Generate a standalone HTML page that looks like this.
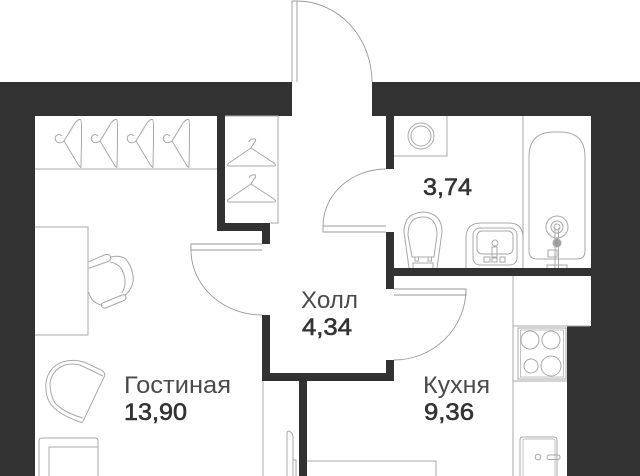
<!DOCTYPE html>
<html><head><meta charset="utf-8"><style>
html,body{margin:0;padding:0;background:#fff;width:640px;height:476px;overflow:hidden}
svg{display:block}
.l{fill:none;stroke:#a8a8a8;stroke-width:1}
.d{fill:none;stroke:#999;stroke-width:.9}
text{font-family:"Liberation Sans",sans-serif;font-size:24px;fill:#4a4a4a}
.n{fill:#333;stroke:#333;stroke-width:.6}
</style></head><body>
<svg width="640" height="476" viewBox="0 0 640 476" xmlns="http://www.w3.org/2000/svg">
<g fill="#323232">
<path d="M0 82H292V116H35V476H0Z"/>
<path d="M217 116H225V223H270V244H262V231H217Z"/>
<path d="M372 82H640V476H567V326H591V116H372Z"/>
<rect x="386" y="116" width="8" height="53"/>
<rect x="386" y="232" width="8" height="57"/>
<rect x="386" y="268" width="205" height="8"/>
<rect x="386" y="360" width="8" height="21"/>
<rect x="262" y="373" width="132" height="8"/>
<rect x="262" y="315" width="8" height="66"/>
<rect x="299" y="381" width="8" height="95"/>
</g>
<g class="d">
<path d="M292 82V1H297V82"/><path d="M297 1A75 81 0 0 1 372 82"/>
<path d="M386 226H323V232H386"/><path d="M323 226A63 57 0 0 1 386 169"/>
<path d="M262 244H191V250H262"/><path d="M191 250A71 65 0 0 0 262 315"/>
<path d="M394 289H466V295H394"/><path d="M466 289A72 71 0 0 1 394 360"/>
</g>
<g class="l">
<path d="M35 169H217"/>
<path d="M225 116H278V223H270"/>
<path d="M35 227H88V335H35"/>
<path d="M88.7 261.7L105 254.7Q109 253.5 110.7 257Q111.5 260 108 261.5L88.7 268.3"/>
<path d="M110 257Q119 255 125 258.3Q133 267 133.3 280Q132 290 125 295"/>
<path d="M110 262Q116 263 120 267Q125 273 125 282Q125 289 121.7 293"/>
<path d="M102.7 303L122 295Q125 294 126 297Q126.5 299 124 300.5L105.5 308Q102.5 308.5 101.5 306Q101 304 102.7 303Z"/>
<path d="M88.7 292Q91 303 102.7 305.5"/>
<path d="M105 375Q104 371 101 370L84 362Q73 359 63 361.7Q48 367 46 383Q45 395 50 403Q57 414 80 422Q82 423 82.7 422Z"/>
<path d="M103 376L80 365Q72 363 65 365Q52 370 50 383Q50 395 55 403Q63 412 82.7 418"/>
<path d="M39 476V441Q39 438 42 438H95Q98 438 98 441V476"/>
<path d="M49 476V447H98"/>
<path d="M263 381V476"/>
<path d="M287 476V434Q287 431 289 431Q293 433 293 437V476"/>
<path d="M293 460H296V476"/>
<path d="M307 461H436V476"/>
<path d="M513 276V476"/>
<path d="M513 326H590"/>
<path d="M513 381H567"/>
<rect x="518" y="328" width="48" height="51"/>
<rect x="520.5" y="330" width="43" height="47" stroke-width=".7"/>
<circle cx="530" cy="340" r="9"/><circle cx="551" cy="340" r="9"/>
<circle cx="531" cy="366" r="7"/><circle cx="551" cy="366" r="10"/>
<path d="M520 476V440Q520 437 523 437H554Q557 437 557 440V476"/>
<path d="M523 476V441Q523 439 525 439H553Q555 439 555 441V476" stroke-width=".7"/>
<circle cx="538" cy="457" r="2.8"/>
<rect x="547" y="455" width="13" height="4.5" rx="2"/>
<path d="M394 156H447V116"/>
<circle cx="421" cy="136" r="13"/><circle cx="421" cy="136" r="10"/>
<path d="M523 116V268"/>
<path d="M529 157Q529 132 554 132H560Q585 132 585 157V251Q585 259 577 259H537Q529 259 529 251Z"/>
<circle cx="557" cy="227" r="11"/><circle cx="557" cy="227" r="6"/><circle cx="557" cy="227" r="3"/>
<circle cx="557" cy="243" r="4" fill="#999"/>
<path d="M555 228V268M558.5 228V268"/>
<rect x="548" y="250" width="9" height="7"/>
<path d="M547 268V265H567V268"/>
<path d="M409 268L404 232Q404 213 423 212Q442 213 442 232L437 268"/>
<path d="M412 257L408 235Q408 217 423 217Q437 217 437 235L434 257Z"/>
<rect x="415" y="257" width="3.5" height="4"/><rect x="428" y="257" width="3.5" height="4"/>
<path d="M413 268V263H433V268"/>
<path d="M466 268V238Q466 223 481 223H509Q523 223 523 238V268"/>
<rect x="473" y="228" width="44" height="37" rx="7"/>
<rect x="477" y="231" width="36" height="23" rx="5"/>
<circle cx="495" cy="243" r="3"/>
<rect x="492" y="247" width="5" height="11"/>
<rect x="484" y="257" width="6" height="5"/><rect x="492" y="257" width="5" height="5"/><rect x="500" y="257" width="5" height="5"/>
</g>
<g class="l">
<path d="M81 167Q82 120 81 120Q79 118 75 123L64 141L79 166Q81 168 81 167M64 141Q60 144 57 142Q54 139 56 136Q59 133 62 136"/>
<path d="M117 167Q118 120 117 120Q115 118 111 123L100 141L115 166Q117 168 117 167M100 141Q96 144 93 142Q90 139 92 136Q95 133 98 136"/>
<path d="M153 167Q154 120 153 120Q151 118 147 123L136 141L151 166Q153 168 153 167M136 141Q132 144 129 142Q126 139 128 136Q131 133 134 136"/>
<path d="M189 167Q190 120 189 120Q187 118 183 123L172 141L187 166Q189 168 189 167M172 141Q168 144 165 142Q162 139 164 136Q167 133 170 136"/>
<path d="M251 148L229 163Q226 166 229 166H274Q277 166 274 163L251 148Q253 144 255 142Q257 138 253 139Q250 139 249 142"/>
<path d="M251 184L229 199Q226 202 229 202H274Q277 202 274 199L251 184Q253 180 255 178Q257 174 253 175Q250 175 249 178"/>
</g>
<text x="124" y="393" textLength="107" lengthAdjust="spacingAndGlyphs">Гостиная</text>
<text class="n" x="124" y="420" textLength="63" lengthAdjust="spacingAndGlyphs">13,90</text>
<text x="301" y="308" textLength="57" lengthAdjust="spacingAndGlyphs">Холл</text>
<text class="n" x="302" y="335" textLength="50" lengthAdjust="spacingAndGlyphs">4,34</text>
<text x="423" y="393" textLength="67" lengthAdjust="spacingAndGlyphs">Кухня</text>
<text class="n" x="424" y="420" textLength="50" lengthAdjust="spacingAndGlyphs">9,36</text>
<text class="n" x="423" y="195" textLength="49" lengthAdjust="spacingAndGlyphs">3,74</text>
</svg>
</body></html>
